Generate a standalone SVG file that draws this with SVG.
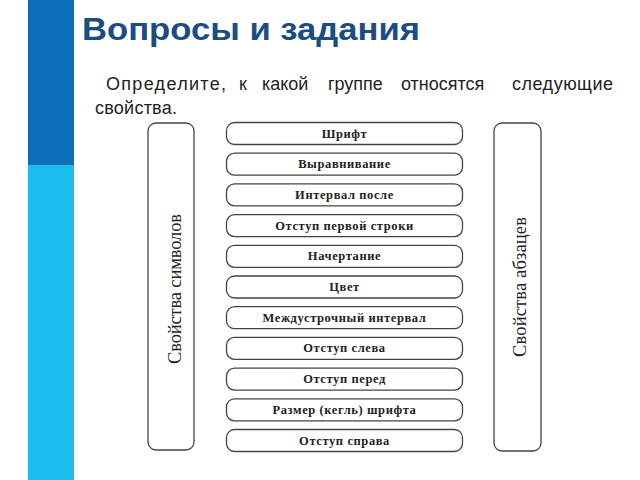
<svg xmlns="http://www.w3.org/2000/svg" width="640" height="480" viewBox="0 0 640 480">
<style>
.item{fill:#fff;stroke:#444;stroke-width:1.3}
.it{font-family:"Liberation Serif","DejaVu Serif",serif;font-weight:bold;font-size:12.5px;letter-spacing:0.6px;fill:#222;text-anchor:middle}
.vt{font-family:"Liberation Serif","DejaVu Serif",serif;font-size:18.5px;fill:#222;text-anchor:middle}
.p{font-family:"Liberation Sans",Arial,sans-serif;font-size:18px;fill:#222}
</style>
<rect width="640" height="480" fill="#fff"/>
<rect x="28" y="0" width="46" height="165" fill="#0B6EB7"/>
<rect x="28" y="165" width="46" height="315" fill="#19BDEE"/>
<text x="82" y="40" font-family="Liberation Sans,Arial,sans-serif" font-weight="bold" font-size="32" fill="#1B4D84" textLength="338" lengthAdjust="spacingAndGlyphs">Вопросы и задания</text>
<g class="p">
<text x="106" y="90" textLength="120" lengthAdjust="spacing">Определите,</text>
<text x="239" y="90">к</text>
<text x="262" y="90">какой</text>
<text x="328" y="90">группе</text>
<text x="401" y="90">относятся</text>
<text x="512" y="90" textLength="101" lengthAdjust="spacing">следующие</text>
<text x="95" y="114" textLength="82" lengthAdjust="spacing">свойства.</text>
</g>
<g id="group-symbols">
<rect class="item" x="148" y="123" width="46" height="327" rx="8"/>
<text class="vt" transform="translate(181,289) rotate(-90)" textLength="150" lengthAdjust="spacing">Свойства символов</text>
</g>
<g id="group-paragraphs">
<rect class="item" x="494" y="123" width="47" height="328" rx="8"/>
<text class="vt" transform="translate(526,287) rotate(-90)" textLength="140" lengthAdjust="spacing">Свойства абзацев</text>
</g>
<g id="i1"><rect class="item" x="226.5" y="122.5" width="236" height="22" rx="8"/><text class="it" x="344.5" y="137.5">Шрифт</text></g>
<g id="i2"><rect class="item" x="226.5" y="153.2" width="236" height="22" rx="8"/><text class="it" x="344.5" y="168.2">Выравнивание</text></g>
<g id="i3"><rect class="item" x="226.5" y="183.9" width="236" height="22" rx="8"/><text class="it" x="344.5" y="198.9">Интервал после</text></g>
<g id="i4"><rect class="item" x="226.5" y="214.6" width="236" height="22" rx="8"/><text class="it" x="344.5" y="229.6">Отступ первой строки</text></g>
<g id="i5"><rect class="item" x="226.5" y="245.3" width="236" height="22" rx="8"/><text class="it" x="344.5" y="260.3">Начертание</text></g>
<g id="i6"><rect class="item" x="226.5" y="276" width="236" height="22" rx="8"/><text class="it" x="344.5" y="291">Цвет</text></g>
<g id="i7"><rect class="item" x="226.5" y="306.7" width="236" height="22" rx="8"/><text class="it" x="344.5" y="321.7">Междустрочный интервал</text></g>
<g id="i8"><rect class="item" x="226.5" y="337.4" width="236" height="22" rx="8"/><text class="it" x="344.5" y="352.4">Отступ слева</text></g>
<g id="i9"><rect class="item" x="226.5" y="368.1" width="236" height="22" rx="8"/><text class="it" x="344.5" y="383.1">Отступ перед</text></g>
<g id="i10"><rect class="item" x="226.5" y="398.8" width="236" height="22" rx="8"/><text class="it" x="344.5" y="413.8">Размер (кегль) шрифта</text></g>
<g id="i11"><rect class="item" x="226.5" y="429.5" width="236" height="22" rx="8"/><text class="it" x="344.5" y="444.5">Отступ справа</text></g>
<g id="connectors"></g>
</svg>
